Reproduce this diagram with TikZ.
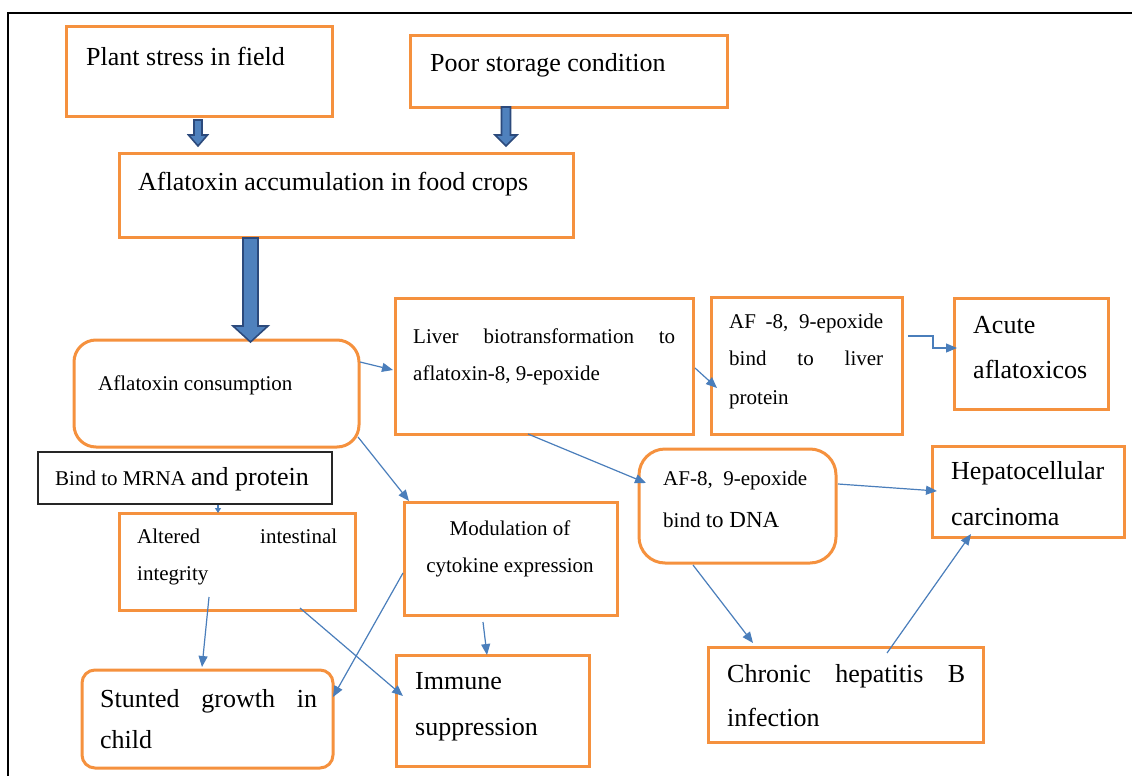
\documentclass[tikz,border=0pt]{standalone}
\usepackage{fontspec}
\setmainfont{Liberation Serif}
\usetikzlibrary{calc,arrows.meta}
\definecolor{boxorange}{HTML}{F5913E}
\definecolor{connblue}{HTML}{4A7EBB}
\definecolor{arrfill}{HTML}{4F81BD}
\definecolor{arrdark}{HTML}{2C4A7C}
\tikzset{
  obox/.style={draw=boxorange, line width=3pt, rectangle, inner sep=0pt, outer sep=0pt},
  rbox/.style={obox, rounded corners=#1},
  kbox/.style={draw=black!85, line width=1.1pt, rectangle, inner sep=0pt, outer sep=0pt},
  bigtxt/.style={font=\fontsize{26}{30}\selectfont, anchor=base west, inner sep=0pt},
  smalltxt/.style={font=\fontsize{21}{25}\selectfont, anchor=base west, inner sep=0pt},
  conn/.style={draw=connblue, line width=1.2pt, -{Triangle[length=11pt,width=9pt]}},
  blockarrow/.style={fill=arrfill, draw=arrdark, line width=1.6pt, line join=miter},
}
\newcommand{\ebox}[6][obox]{\node[#1, anchor=north west, minimum width={#5-#3}, minimum height={#6-#4}] (#2) at (#3,#4) {};}
\newcommand{\blockarr}[5]{%
  \draw[blockarrow] let \p1=#1, \p2=#2 in
    (\x1-#3,\y1) -- (\x1-#3,\y2+#5) -- (\x1-#4,\y2+#5) -- (\x1,\y2) --
    (\x1+#4,\y2+#5) -- (\x1+#3,\y2+#5) -- (\x1+#3,\y1) -- cycle;}
\begin{document}
\begin{tikzpicture}[x=1pt,y=-1pt]
\useasboundingbox (0,0) rectangle (1132,776);
\fill[white] (0,0) rectangle (1132,776);
% frame
\draw[line width=2pt] (8,776) -- (8,13) -- (1132,13);

% boxes
\ebox{plant}{66}{27}{332}{116}
\ebox{poor}{410}{36}{727}{107}
\ebox{accum}{119}{153}{573}{237}
\ebox[rbox=22pt]{cons}{74}{340}{359}{447}
\ebox{liver}{395}{298}{693}{434}
\ebox{afliv}{711}{297}{902}{434}
\ebox{acute}{954}{298}{1108}{409}
\ebox[rbox=26pt]{dna}{639}{449}{836}{563}
\ebox{hep}{932}{446}{1124}{537}
\ebox[kbox]{bind}{38}{452}{332}{504}
\ebox{alt}{119}{513}{355}{610}
\ebox{mod}{404}{502}{617}{615}
\ebox[rbox=13pt]{stunt}{82}{670}{333}{768}
\ebox{immune}{396}{655}{589}{766}
\ebox{chronic}{708}{647}{983}{742}

% texts
\node[bigtxt] (plant-t) at (86,66) {Plant stress in field};
\node[bigtxt] (poor-t) at (430,71) {Poor storage condition};
\node[bigtxt] (accum-t) at (138,190) {Aflatoxin accumulation in food crops};
\node[smalltxt] (cons-t) at (98,390) {Aflatoxin consumption};
\node[smalltxt] (liver-t1) at (413,343) {\makebox[262pt][s]{Liver biotransformation to}};
\node[smalltxt] (liver-t2) at (413,380) {aflatoxin-8, 9-epoxide};
\node[smalltxt] (afliv-t1) at (729,328) {\makebox[154pt][s]{AF -8, 9-epoxide}};
\node[smalltxt] (afliv-t2) at (729,365) {\makebox[154pt][s]{bind to liver}};
\node[smalltxt] (afliv-t3) at (729,404) {protein};
\node[bigtxt] (acute-t1) at (973,333) {Acute};
\node[bigtxt] (acute-t2) at (973,378) {aflatoxicos};
\node[smalltxt] (dna-t1) at (663,485) {AF-8,\ \ 9-epoxide};
\node[smalltxt] (dna-t2) at (663,527) {bind {\fontsize{23}{25}\selectfont to DNA}};
\node[bigtxt] (hep-t1) at (951,479) {Hepatocellular};
\node[bigtxt] (hep-t2) at (951,525) {carcinoma};
\node[smalltxt] (bind-t) at (55,485) {Bind to MRNA {\fontsize{26}{30}\selectfont and protein}};
\node[smalltxt] (alt-t1) at (137,543) {\makebox[200pt][s]{Altered intestinal}};
\node[smalltxt] (alt-t2) at (137,580) {integrity};
\node[smalltxt, anchor=base] (mod-t1) at (510,535) {Modulation of};
\node[smalltxt, anchor=base] (mod-t2) at (510,572) {cytokine expression};
\node[bigtxt] (stunt-t1) at (100,707) {\makebox[217pt][s]{Stunted growth in}};
\node[bigtxt] (stunt-t2) at (100,748) {child};
\node[bigtxt] (immune-t1) at (415,689) {Immune};
\node[bigtxt] (immune-t2) at (415,735) {suppression};
\node[bigtxt] (chronic-t1) at (727,682) {\makebox[238pt][s]{Chronic hepatitis B}};
\node[bigtxt] (chronic-t2) at (727,726) {infection};

% block arrows
\blockarr{($(plant.south)+(-1,4)$)}{($(accum.north)+(0,-7)$)}{4pt}{9.5pt}{11pt}
\blockarr{($(poor.south west)+(96,0)$)}{($(accum.north)+(0,-7)$)}{4.5pt}{11pt}{11pt}
\blockarr{($(accum.south west)+(131.5,1)$)}{($(cons.north)+(0,2)$)}{7.5pt}{17.5pt}{16pt}

% connectors
\draw[conn] ($(cons.north east)+(1,22)$) -- ($(liver.north west)+(-2,72)$);
\draw[conn] ($(liver.north east)+(2,70)$) -- ($(afliv.north west)+(6,91)$);
\draw[conn] ($(afliv.north east)+(6,39)$) -- ++(25,0) -- ++(0,12) -- ($(acute.north west)+(3,50)$);
\draw[conn] ($(liver.south west)+(133,0)$) -- ($(dna.north west)+(7,34)$);
\draw[conn] ($(dna.north east)+(2,35)$) -- ($(hep.north west)+(5,45)$);
\draw[conn] ($(dna.south west)+(54,2)$) -- ($(chronic.north west)+(45,-4)$);
\draw[conn] ($(chronic.north west)+(179,6)$) -- ($(hep.south west)+(39,-3)$);
\draw[conn] ($(cons.south east)+(-1,-10)$) -- ($(mod.north west)+(5,-1)$);
\draw[draw=connblue, line width=1.2pt, -{Triangle[length=5pt,width=6pt]}] ($(bind.south west)+(180,1)$) -- ($(alt.north west)+(99,0)$);
\draw[conn] ($(alt.south west)+(90,-13)$) -- ($(stunt.north west)+(120,-3)$);
\draw[conn] ($(alt.south west)+(181,-2)$) -- ($(immune.north west)+(7,41)$);
\draw[conn] ($(mod.north west)+(-1,71)$) -- ($(stunt.north east)+(0,27)$);
\draw[conn] ($(mod.south west)+(79,7)$) -- ($(immune.north west)+(91,0)$);
\end{tikzpicture}
\end{document}
